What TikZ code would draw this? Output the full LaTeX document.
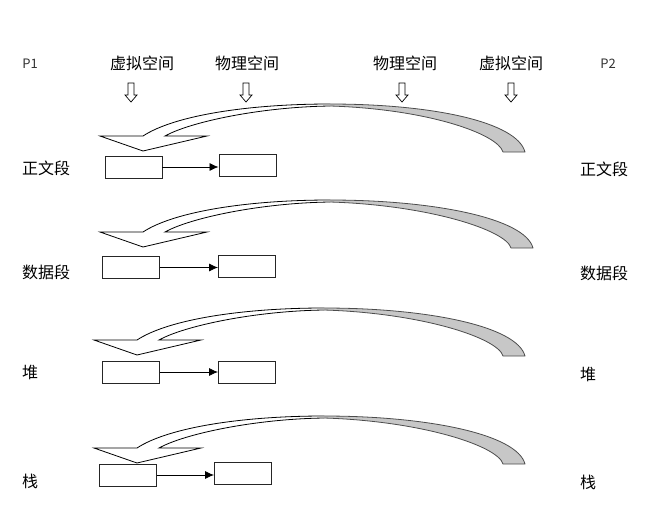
\documentclass[tikz,border=0pt]{standalone}
\usepackage{fontspec}
\newfontfamily\cjk{Noto Sans CJK SC}
\usetikzlibrary{arrows.meta}
\begin{document}
\begin{tikzpicture}[x=1pt,y=-1pt,
  lbl/.style={font=\cjk\fontsize{16}{18}\selectfont, inner sep=0pt},
  plbl/.style={font=\cjk\fontsize{13}{15}\selectfont, text=black!80, inner sep=0pt},
  membox/.style={draw=black!85, line width=0.9pt, minimum width=57pt, minimum height=22pt, inner sep=0pt},
  conn/.style={draw, line width=0.8pt, -{Latex[length=9pt,width=8pt]}},
  hollowdown/.pic={
    \draw[line width=0.7pt, fill=white] (-3,0) -- (3,0) -- (3,12) -- (6,12) -- (0,19) -- (-6,12) -- (-3,12) -- cycle;
  },
  bentarrow/.pic={
    \fill[black!22]
      (187,-32) .. controls (290,-32) and ({374+#1},-14) .. ({382+#1},16)
      -- ({360+#1},16) .. controls ({355+#1},-2) and (285,-27) .. (187,-30) -- cycle;
    \draw[black!70, line width=0.8pt, line join=round]
      (187,-32) .. controls (290,-32) and ({374+#1},-14) .. ({382+#1},16)
      -- ({360+#1},16) .. controls ({355+#1},-2) and (285,-27) .. (187,-30);
    \fill[white]
      (-43,0) -- (0,0) .. controls (32,-21) and (107,-32) .. (187,-32)
      -- (187,-30) .. controls (117,-29) and (47,-14) .. (22,0)
      -- (64,0) -- (0,15) -- cycle;
    \draw[black, line width=0.8pt, line join=miter]
      (187,-30) .. controls (117,-29) and (47,-14) .. (22,0)
      -- (64,0) -- (0,15) -- (-43,0) -- (0,0)
      .. controls (32,-21) and (107,-32) .. (187,-32);
  }
]
\useasboundingbox (0,0) rectangle (666,520);

% header
\node[plbl] (p1) at (30,64) {P1};
\node[lbl] (v1) at (142,63) {虚拟空间};
\node[lbl] (m1) at (247,63) {物理空间};
\node[lbl] (m2) at (405,63) {物理空间};
\node[lbl] (v2) at (511,63) {虚拟空间};
\node[plbl] (p2) at (608,64) {P2};
\pic at (131,83) {hollowdown};
\pic at (246,83) {hollowdown};
\pic at (402,83) {hollowdown};
\pic at (511,83) {hollowdown};

% curved arrows
\pic at (143,136) {bentarrow=0};
\pic at (143,232) {bentarrow=8};
\pic at (137,340) {bentarrow=6};
\pic at (137,448) {bentarrow=6};

% left labels
\node[lbl, anchor=west] (l1) at (22,168) {正文段};
\node[lbl, anchor=west] (l2) at (22,272) {数据段};
\node[lbl, anchor=west] (l3) at (22,372) {堆};
\node[lbl, anchor=west] (l4) at (22,481) {栈};
% right labels
\node[lbl, anchor=west] (r1) at (580,169) {正文段};
\node[lbl, anchor=west] (r2) at (580,273) {数据段};
\node[lbl, anchor=west] (r3) at (580,374) {堆};
\node[lbl, anchor=west] (r4) at (580,482) {栈};

% boxes
\node[membox] (a1) at (133.5,167) {};
\node[membox] (b1) at (247.5,165) {};
\node[membox] (a2) at (131,267.5) {};
\node[membox] (b2) at (247,266) {};
\node[membox] (a3) at (131,372) {};
\node[membox] (b3) at (247,372) {};
\node[membox] (a4) at (128,475) {};
\node[membox] (b4) at (243,473.5) {};

\draw[conn] (a1.east) -- (a1.east -| b1.west);
\draw[conn] (a2.east) -- (a2.east -| b2.west);
\draw[conn] (a3.east) -- (a3.east -| b3.west);
\draw[conn] (a4.east) -- (a4.east -| b4.west);
\end{tikzpicture}
\end{document}
